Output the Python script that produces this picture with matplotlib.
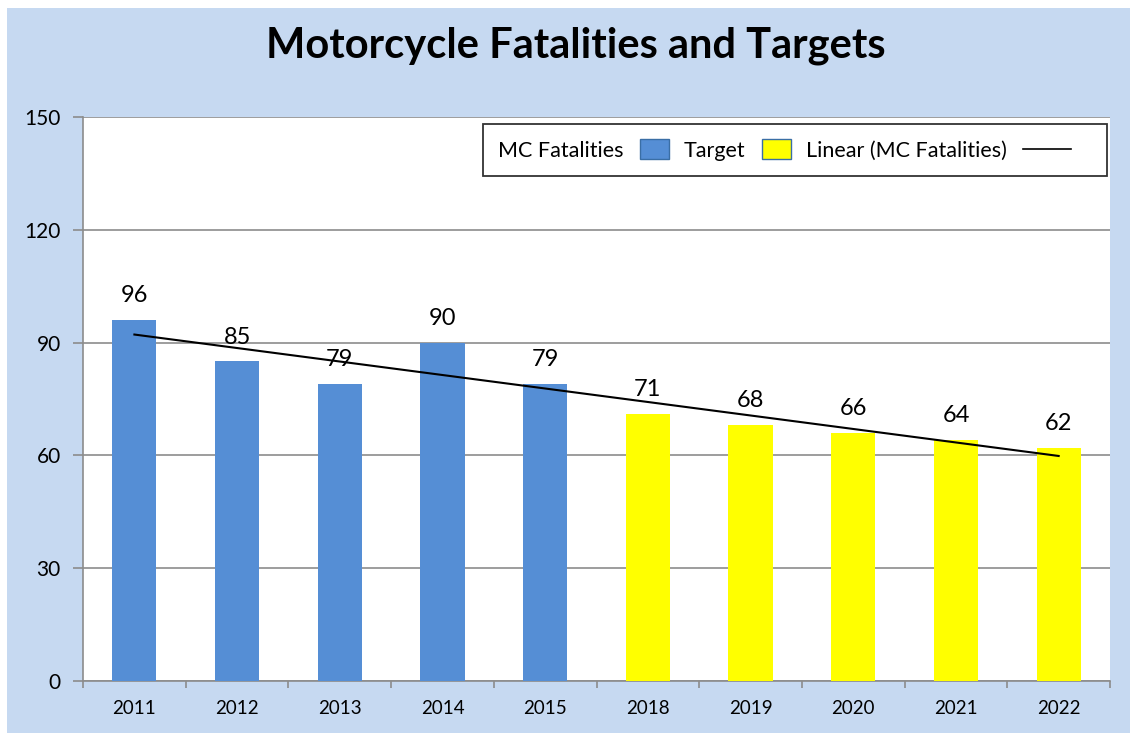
"""Motorcycle fatalities and targets bar chart."""

import matplotlib

matplotlib.use("Agg")

import matplotlib.pyplot as plt
import numpy as np
from matplotlib.legend_handler import HandlerBase
from matplotlib.lines import Line2D
from matplotlib.patches import Patch, Rectangle

years = ["2011", "2012", "2013", "2014", "2015", "2018", "2019", "2020", "2021", "2022"]
fatalities = [96, 85, 79, 90, 79, 71, 68, 66, 64, 62]
is_target = [False, False, False, False, False, True, True, True, True, True]

fatality_color = "#558ed5"
target_color = "#ffff00"
background = "#c6d9f1"
grid_color = "#8c8c8c"

plt.rcParams["font.family"] = ["Lato", "DejaVu Sans"]


class TrendLineHandler(HandlerBase):
    """Legend line that is longer than the square patches."""

    def legend_artist(self, legend, orig_handle, fontsize, handlebox):
        handlebox.width = 3.2 * fontsize
        return super().legend_artist(legend, orig_handle, fontsize, handlebox)

    def create_artists(self, legend, orig_handle, xdescent, ydescent,
                       width, height, fontsize, trans):
        y = height / 2 - ydescent
        line = Line2D([-xdescent, -xdescent + 2.25 * fontsize], [y, y],
                      color=orig_handle.get_color(),
                      linewidth=orig_handle.get_linewidth())
        line.set_transform(trans)
        return [line]


fig = plt.figure(figsize=(11.3, 7.33), dpi=100, facecolor="white")
# chart area background, leaving the thin white edge at left and top
fig.patches.append(
    Rectangle((7 / 1130, 0), 1, 1 - 8 / 733, transform=fig.transFigure,
              facecolor=background, edgecolor="none", zorder=-10)
)

ax = fig.add_axes([0.0735, 0.0709, 0.9088, 0.7695])
ax.set_facecolor("white")

x = np.arange(len(years))
colors = [target_color if t else fatality_color for t in is_target]
ax.bar(x, fatalities, width=0.43, color=colors, zorder=3)

for xi, val in zip(x, fatalities):
    ax.annotate(
        f"{val}",
        (xi, val),
        xytext=(0, 10),
        textcoords="offset points",
        ha="center",
        va="bottom",
        fontsize=17,
    )

slope, intercept = np.polyfit(x, fatalities, 1)
ax.plot(x, slope * x + intercept, color="black", linewidth=1.5, zorder=4)

ax.set_xlim(-0.5, len(years) - 0.5)
ax.set_ylim(0, 150)
ax.set_yticks([0, 30, 60, 90, 120, 150])
ax.set_xticks(x, years)
ax.set_xticks(np.arange(-0.5, len(years)), minor=True)
ax.tick_params(axis="x", which="major", length=0, labelsize=13.5, pad=14)
ax.tick_params(axis="x", which="minor", length=5, color=grid_color, width=1.2)
ax.tick_params(axis="y", length=7, color=grid_color, width=1.2, labelsize=15, pad=9)
ax.grid(axis="y", color=grid_color, linewidth=1.2, zorder=1)

for side in ["top", "right"]:
    ax.spines[side].set_visible(False)
for side in ["left", "bottom"]:
    ax.spines[side].set_color(grid_color)
    ax.spines[side].set_linewidth(1.2)

fig.text(
    0.51,
    0.938,
    "Motorcycle Fatalities and Targets",
    ha="center",
    va="center",
    fontsize=30,
    fontweight="bold",
)

trend_handle = Line2D([], [], color="black", linewidth=1.2)
handles = [
    Patch(facecolor=fatality_color, edgecolor="#3a6ea5"),
    Patch(facecolor=target_color, edgecolor="#3a6ea5"),
    trend_handle,
]
labels = ["MC Fatalities", "Target", "Linear (MC Fatalities)"]
legend = ax.legend(
    handles,
    labels,
    ncol=3,
    markerfirst=False,
    loc="upper right",
    bbox_to_anchor=(0.997, 0.9876),
    borderaxespad=0,
    fontsize=15.5,
    frameon=True,
    fancybox=False,
    edgecolor="black",
    handlelength=1.35,
    handleheight=1.07,
    handletextpad=0.75,
    columnspacing=0.7,
    borderpad=0.7,
    handler_map={trend_handle: TrendLineHandler()},
)
legend.get_frame().set_linewidth(1.3)
legend.set_zorder(5)

fig.savefig("out.png", dpi=100, facecolor="white")
